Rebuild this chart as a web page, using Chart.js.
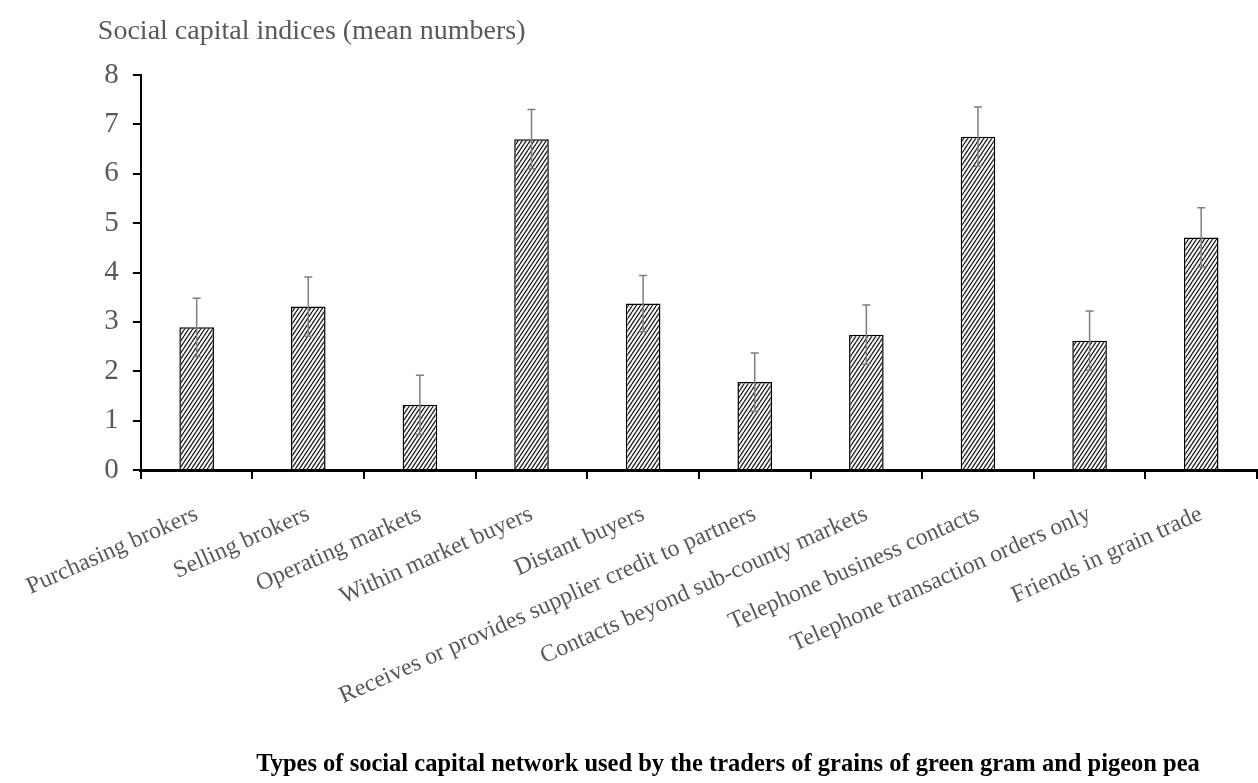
<!DOCTYPE html>
<html>
<head>
<meta charset="utf-8">
<title>Social capital network of grain traders</title>
<script src="https://cdn.jsdelivr.net/npm/chart.js@4.4.1/dist/chart.umd.min.js"></script>
<style>
  html, body { margin: 0; padding: 0; background: #fff; }
  #wrap { width: 1258px; height: 783px; }
</style>
</head>
<body>
<div id="wrap"><canvas id="networkChart" width="1258" height="783"></canvas></div>
<script>
// network types and their mean index with standard error
const categories = [
  'Purchasing brokers',
  'Selling brokers',
  'Operating markets',
  'Within market buyers',
  'Distant buyers',
  'Receives or provides supplier credit to partners',
  'Contacts beyond sub-county markets',
  'Telephone business contacts',
  'Telephone transaction orders only',
  'Friends in grain trade'
];
const meanIndex = [2.89, 3.31, 1.32, 6.70, 3.37, 1.78, 2.74, 6.75, 2.62, 4.71];
const stdError = [0.59, 0.60, 0.60, 0.60, 0.57, 0.59, 0.60, 0.60, 0.60, 0.60];
const yTicks = [0, 1, 2, 3, 4, 5, 6, 7, 8];

const yTitle = 'Social capital indices (mean numbers)';
const xTitle = 'Types of social capital network used by the traders of grains of green gram and pigeon pea';

const serif = "'Liberation Serif', 'Times New Roman', serif";
const grey = '#595959';

// diagonal hatch fill for the bars
function makeHatch() {
  const c = document.createElement('canvas');
  c.width = 4;
  c.height = 6;
  const g = c.getContext('2d');
  g.fillStyle = '#fff';
  g.fillRect(0, 0, 4, 6);
  g.strokeStyle = '#262626';
  g.lineWidth = 1.4;
  g.beginPath();
  for (let k = -1; k <= 1; k++) {
    g.moveTo(k * 4, 6);
    g.lineTo(k * 4 + 4, 0);
  }
  g.stroke();
  return g.createPattern(c, 'repeat');
}

const errorBars = {
  id: 'errorBars',
  afterDatasetsDraw(chart) {
    const ctx = chart.ctx;
    const y = chart.scales.y;
    const meta = chart.getDatasetMeta(0);
    ctx.save();
    ctx.strokeStyle = '#7f7f7f';
    ctx.lineWidth = 1.5;
    meta.data.forEach((bar, i) => {
      const top = y.getPixelForValue(meanIndex[i] + stdError[i]);
      const bot = y.getPixelForValue(meanIndex[i] - stdError[i]);
      ctx.beginPath();
      ctx.moveTo(bar.x, top);
      ctx.lineTo(bar.x, bot);
      ctx.moveTo(bar.x - 4, top);
      ctx.lineTo(bar.x + 4, top);
      ctx.moveTo(bar.x - 4, bot);
      ctx.lineTo(bar.x + 4, bot);
      ctx.stroke();
    });
    ctx.restore();
  }
};

// axis captions: y caption sits above the axis, x caption centred at the bottom
const captions = {
  id: 'captions',
  afterDraw(chart) {
    const ctx = chart.ctx;
    const area = chart.chartArea;
    ctx.save();
    ctx.fillStyle = grey;
    ctx.font = '28px ' + serif;
    ctx.textAlign = 'left';
    ctx.textBaseline = 'alphabetic';
    ctx.fillText(yTitle, area.left - 43, 39);

    ctx.fillStyle = '#000';
    ctx.font = 'bold 24.5px ' + serif;
    ctx.textAlign = 'center';
    ctx.fillText(xTitle, 728, 771);
    ctx.restore();
  }
};

const ctx = document.getElementById('networkChart').getContext('2d');
new Chart(ctx, {
  type: 'bar',
  data: {
    labels: categories,
    datasets: [{
      data: meanIndex,
      backgroundColor: makeHatch(),
      borderColor: '#000',
      borderWidth: 1.5,
      barPercentage: 0.31,
      categoryPercentage: 1
    }]
  },
  options: {
    responsive: false,
    animation: false,
    devicePixelRatio: 1,
    layout: { padding: { top: 75, right: 1, left: 0, bottom: 0 } },
    plugins: {
      legend: { display: false },
      tooltip: { enabled: false }
    },
    scales: {
      x: {
        grid: { drawOnChartArea: false, color: '#000', lineWidth: 2, tickLength: 9, offset: true },
        border: { color: '#000', width: 3 },
        ticks: {
          autoSkip: false,
          minRotation: 24,
          maxRotation: 24,
          padding: 21,
          color: grey,
          font: { family: serif, size: 24 }
        },
        afterFit(scale) { scale.height = 313; }
      },
      y: {
        min: yTicks[0],
        max: yTicks[yTicks.length - 1],
        afterBuildTicks(scale) { scale.ticks = yTicks.map(v => ({ value: v })); },
        grid: { drawOnChartArea: false, color: '#000', lineWidth: 2, tickLength: 8 },
        border: { color: '#000', width: 2 },
        ticks: {
          padding: 14,
          color: grey,
          font: { family: serif, size: 29 }
        },
        afterFit(scale) { scale.width = 140; }
      }
    }
  },
  plugins: [errorBars, captions]
});
</script>
</body>
</html>
